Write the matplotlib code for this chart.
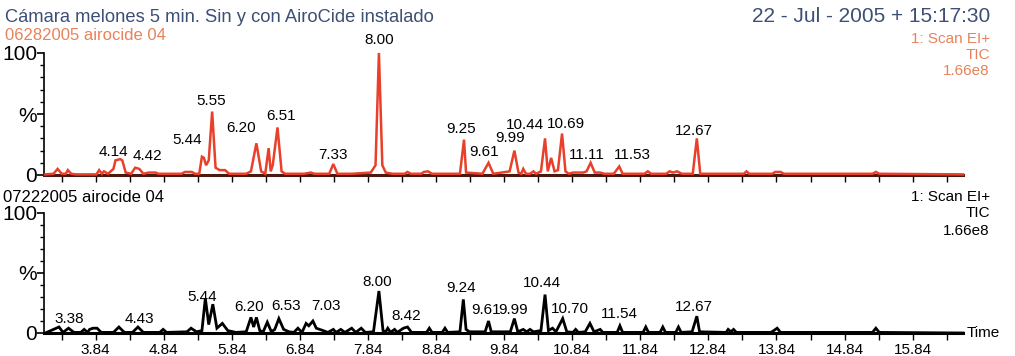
import matplotlib
matplotlib.use("Agg")
import matplotlib.pyplot as plt
from matplotlib.ticker import MultipleLocator, FixedLocator

plt.rcParams['font.family'] = ['Liberation Sans', 'DejaVu Sans']

# ---- top trace: 06282005 airocide 04 (time in min, intensity in %)
top_time = [3.10, 3.22, 3.28, 3.34, 3.40, 3.43, 3.48, 3.55,
            3.85, 3.89, 3.93, 3.96, 4.02, 4.10, 4.13, 4.20, 4.23, 4.28, 4.36, 4.42, 4.48, 4.54,
            4.62, 4.72, 4.76, 5.10, 5.15, 5.25, 5.30, 5.36, 5.40, 5.43, 5.46, 5.50, 5.55, 5.60,
            5.66, 5.74, 5.80, 6.05, 6.12, 6.20, 6.27, 6.33, 6.38, 6.41, 6.44, 6.51, 6.57, 6.62,
            6.90, 7.00, 7.05, 7.27, 7.33, 7.39, 7.60, 7.88, 7.95, 8.00, 8.05, 8.10, 8.20, 8.38,
            8.42, 8.47, 8.62, 8.66, 8.72, 8.78, 9.19, 9.25, 9.28, 9.52, 9.61, 9.68, 9.92, 9.99,
            10.05, 10.09, 10.12, 10.16, 10.22, 10.27, 10.31, 10.38, 10.44, 10.48, 10.53, 10.58,
            10.63, 10.69, 10.74, 10.79, 10.85, 11.00, 11.05, 11.11, 11.17, 11.25, 11.31, 11.45,
            11.53, 11.58, 11.90, 11.95, 12.00, 12.22, 12.27, 12.32, 12.38, 12.45, 12.61, 12.67,
            12.72, 13.36, 13.40, 13.44, 13.78, 13.82, 13.90, 13.95, 15.25, 15.30, 15.35, 16.58]
top_pct = [0.5, 1, 5, 1, 1, 4, 1, 0.5,
           0.5, 4, 1, 3, 1, 5, 12, 13, 12, 2, 1, 6, 5, 1,
           2, 2, 1, 1, 2.5, 2.5, 1, 1, 15, 14, 8, 12, 52, 6,
           4, 4, 1, 1, 3, 26, 3, 1, 22, 3, 8, 39, 3, 1,
           1, 2, 1, 1, 9, 1, 1, 2, 8, 100, 8, 2, 1, 1,
           2.5, 1, 1, 2.5, 3, 1, 1, 29, 2, 1, 10, 1, 3, 20,
           2, 1, 5, 1, 1, 3, 1, 3, 30, 3, 14, 3,
           4, 34, 3, 1, 2, 2, 3, 10, 2, 2, 1, 1,
           7, 1, 1, 3, 1, 1, 3, 2, 3, 1, 1, 30,
           1, 1, 3, 1, 1, 2.5, 2.5, 1, 1, 2.5, 1, 0.5]

# ---- bottom trace: 07222005 airocide 04
bot_time = [3.10, 3.30, 3.36, 3.44, 3.52, 3.62, 3.67, 3.72, 3.75, 3.80, 3.86, 3.92, 4.10, 4.18,
            4.26, 4.38, 4.46, 4.54, 4.78, 4.83, 4.88, 5.18, 5.24, 5.32, 5.40, 5.45, 5.50, 5.56,
            5.62, 5.70, 5.78, 5.90, 6.05, 6.12, 6.16, 6.20, 6.25, 6.30, 6.36, 6.42, 6.47, 6.53,
            6.60, 6.68, 6.75, 6.81, 6.87, 6.93, 6.97, 7.03, 7.08, 7.18, 7.25, 7.33, 7.37, 7.44,
            7.50, 7.60, 7.66, 7.74, 7.80, 7.92, 8.00, 8.06, 8.10, 8.13, 8.17, 8.23, 8.27, 8.36,
            8.42, 8.48, 8.70, 8.74, 8.78, 8.93, 8.97, 9.01, 9.19, 9.24, 9.28, 9.33, 9.56, 9.61,
            9.65, 9.93, 9.99, 10.04, 10.12, 10.17, 10.22, 10.27, 10.38, 10.44, 10.49, 10.55,
            10.60, 10.70, 10.76, 10.85, 10.89, 10.93, 11.03, 11.10, 11.16, 11.25, 11.29, 11.50,
            11.54, 11.58, 11.88, 11.92, 11.96, 12.13, 12.17, 12.21, 12.36, 12.40, 12.44, 12.60,
            12.67, 12.71, 13.10, 13.13, 13.17, 13.21, 13.25, 13.76, 13.80, 13.85, 13.90, 15.25,
            15.30, 15.35, 16.58]
bot_pct = [0, 5, 0.5, 4, 0.5, 0.5, 3, 0.5, 3, 4, 4, 0.5, 0.5, 5,
           0.5, 0.5, 5, 0.5, 0.5, 3, 0.5, 1, 4, 1, 2, 29, 7, 24,
           4, 8, 2, 0.5, 1, 13, 5, 13, 2, 1, 9, 1, 3, 12,
           3, 1, 0.5, 4, 0.5, 8, 6, 10, 4, 2, 0.5, 3, 0.5, 3,
           0.5, 4, 0.5, 4, 0.5, 1, 35, 2, 1, 4, 0.5, 3, 0.5, 4,
           5, 0.5, 0.5, 4, 0.5, 0.5, 4, 0.5, 1, 28, 3, 1, 1, 10,
           1, 1, 12, 1, 3, 1, 3, 1, 2, 32, 2, 4,
           1, 12, 1, 0.5, 3, 0.5, 1, 8, 1, 3, 0.5, 0.5,
           6, 0.5, 0.5, 5, 0.5, 0.5, 5, 0.5, 0.5, 5, 0.5, 1,
           14, 1, 0.5, 3, 1, 3, 0.5, 0.5, 2, 4, 0.5, 0.5,
           4, 0.5, 0]

# peak labels and where they sit (time, %)
top_labels = ['4.14', '4.42', '5.44', '5.55', '6.20', '6.51', '7.33', '8.00', '9.25',
              '9.61', '9.99', '10.44', '10.69', '11.11', '11.53', '12.67']
top_label_xy = [(4.10, 13), (4.60, 10), (5.19, 23), (5.54, 55), (5.98, 33), (6.56, 43),
                (7.33, 11), (8.01, 105), (9.21, 32), (9.55, 13), (9.93, 25), (10.14, 35),
                (10.75, 36), (11.06, 11), (11.72, 11), (12.63, 30)]
bot_labels = ['3.38', '4.43', '5.44', '6.20', '6.53', '7.03', '8.00', '8.42', '9.24',
              '9.61', '9.99', '10.44', '10.70', '11.54', '12.67']
bot_label_xy = [(3.45, 6), (4.48, 6), (5.40, 24), (6.09, 16), (6.63, 17), (7.22, 17),
                (7.98, 37), (8.40, 8), (9.21, 32), (9.57, 13), (9.97, 13), (10.40, 36),
                (10.80, 14), (11.53, 10), (12.63, 16)]

xticks_major = [3.84, 4.84, 5.84, 6.84, 7.84, 8.84, 9.84, 10.84, 11.84, 12.84, 13.84, 14.84, 15.84]
xtick_labels = ['3.84', '4.84', '5.84', '6.84', '7.84', '8.84', '9.84', '10.84', '11.84',
                '12.84', '13.84', '14.84', '15.84']
xticks_minor = [t - 0.5 for t in xticks_major] + [16.34]

W, H = 1015, 356
fig = plt.figure(figsize=(W / 100, H / 100), dpi=100)

x0 = 44 / W
aw = (963 - 44) / W
ax1 = fig.add_axes([x0, 1 - 175 / H, aw, 122 / H])
ax2 = fig.add_axes([x0, 1 - 333 / H, aw, 120 / H])

red = '#e8402a'
for ax, t, p, labs, xy, col, lw, spc in [
        (ax1, top_time, top_pct, top_labels, top_label_xy, red, 1.8, '#4a1a12'),
        (ax2, bot_time, bot_pct, bot_labels, bot_label_xy, 'black', 2.0, 'black')]:
    ax.plot(t, p, color=col, lw=lw, solid_joinstyle='miter', clip_on=False, zorder=3)
    ax.set_xlim(3.08, 16.58)
    ax.set_ylim(0, 100)
    for s in ['top', 'right']:
        ax.spines[s].set_visible(False)
    ax.spines['bottom'].set_color(spc)
    ax.spines['bottom'].set_linewidth(2.2)
    ax.spines['left'].set_linewidth(1.2)
    ax.xaxis.set_major_locator(FixedLocator(xticks_major))
    ax.xaxis.set_minor_locator(FixedLocator(xticks_minor))
    ax.tick_params(axis='x', which='both', direction='out', length=5, width=1, pad=2,
                   labelsize=11)
    ax.yaxis.set_major_locator(FixedLocator([0, 50, 100]))
    ax.yaxis.set_minor_locator(MultipleLocator(10))
    ax.set_yticklabels(['0', '%', '100'])
    ax.tick_params(axis='y', which='major', length=5, width=1.2, pad=0, labelsize=15)
    ax.tick_params(axis='y', which='minor', length=3, width=1)
    ax.patch.set_alpha(0)
    for lab, (lx, ly) in zip(labs, xy):
        ax.text(lx, ly, lab, ha='center', va='bottom', fontsize=11, clip_on=False)

ax1.set_xticklabels([])
ax2.set_xticklabels(xtick_labels)
ax2.text(1.004, 0, 'Time', transform=ax2.transAxes, ha='left', va='center', fontsize=11)

title_col = '#3d4f75'
fig.text(5 / W, 1 - 17 / H, 'Cámara melones 5 min. Sin y con AiroCide instalado',
         ha='left', va='center', fontsize=13.2, color=title_col)
fig.text(990 / W, 1 - 17 / H, '22 - Jul - 2005 + 15:17:30',
         ha='right', va='center', fontsize=15, color=title_col)

orange = '#e8825a'
fig.text(5 / W, 1 - 36 / H, '06282005 airocide 04', ha='left', va='center',
         fontsize=12, color=orange)
fig.text(990 / W, 1 - 39 / H, '1: Scan EI+', ha='right', va='center', fontsize=11, color=orange)
fig.text(990 / W, 1 - 55 / H, 'TIC', ha='right', va='center', fontsize=11, color=orange)
fig.text(990 / W, 1 - 71 / H, '1.66e8', ha='right', va='center', fontsize=11, color=orange)

fig.text(3 / W, 1 - 197 / H, '07222005 airocide 04', ha='left', va='center', fontsize=12)
fig.text(990 / W, 1 - 197 / H, '1: Scan EI+', ha='right', va='center', fontsize=11)
fig.text(990 / W, 1 - 213 / H, 'TIC', ha='right', va='center', fontsize=11)
fig.text(990 / W, 1 - 231 / H, '1.66e8', ha='right', va='center', fontsize=11)

fig.savefig('out.png', dpi=100)
